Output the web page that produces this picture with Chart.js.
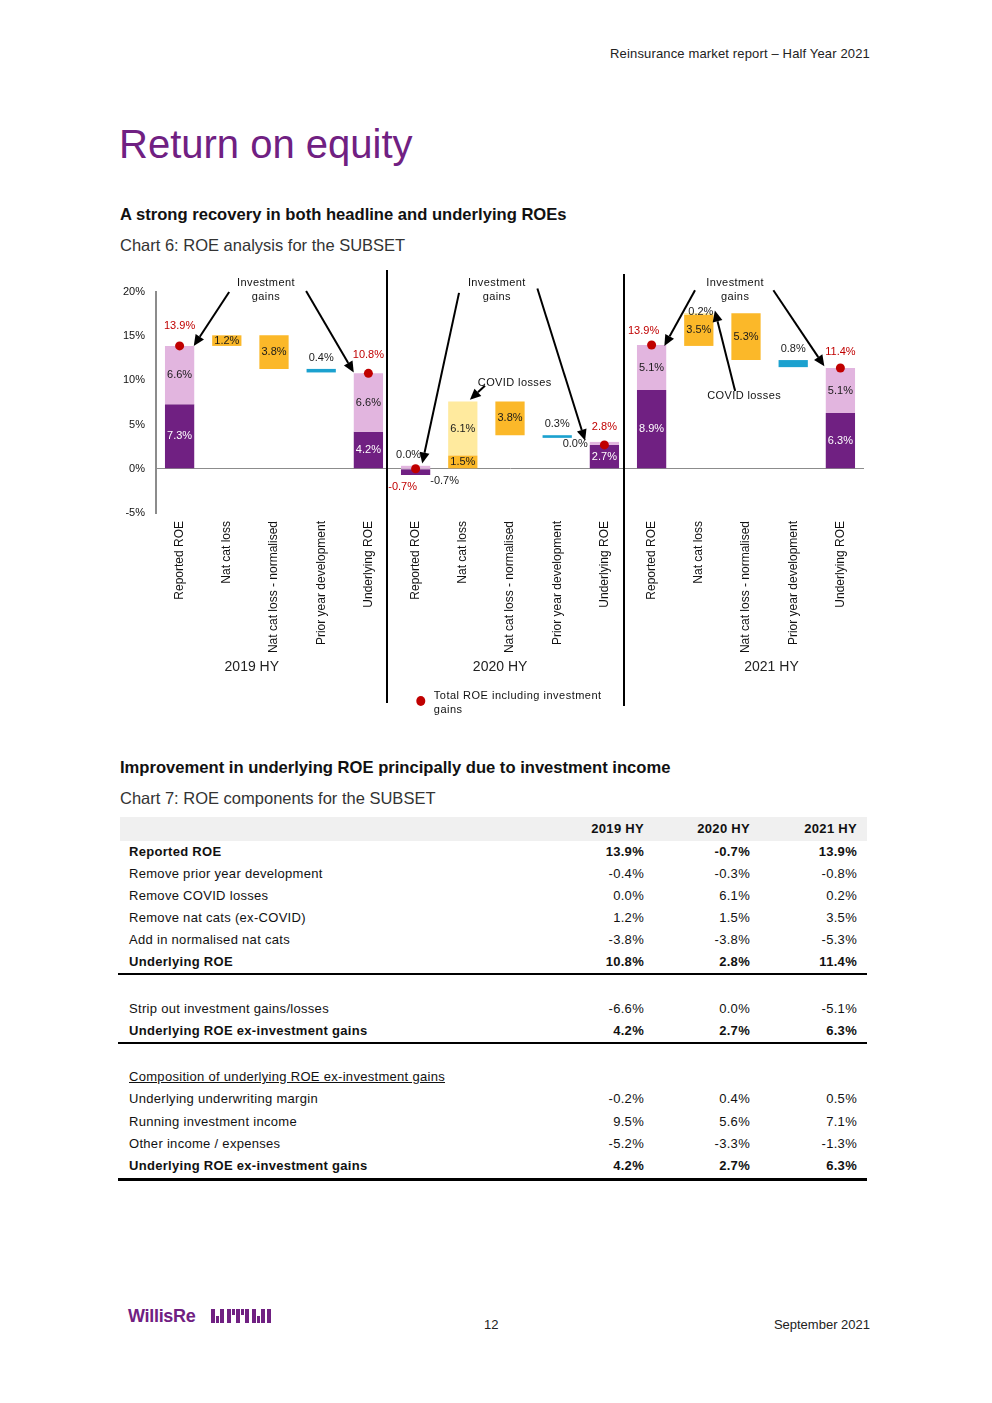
<!DOCTYPE html>
<html>
<head>
<meta charset="utf-8">
<script src="https://cdn.jsdelivr.net/npm/chart.js@4.4.1/dist/chart.umd.min.js"></script>
<style>
  html, body { margin: 0; padding: 0; background: #fff; }
  body { width: 992px; height: 1403px; position: relative; overflow: hidden;
         font-family: "Liberation Sans", Arial, sans-serif; color: #1a1a1a; }
  .abs { position: absolute; white-space: nowrap; }
  #header { right: 122px; top: 46px; font-size: 13px; line-height: 16px; color: #222; letter-spacing: 0.15px; }
  #title { left: 119px; top: 120px; font-size: 40px; line-height: 48px; color: #702082; }
  .sub { left: 120px; font-size: 16.6px; line-height: 18px; font-weight: bold; color: #111; }
  .cap { left: 120px; font-size: 16.5px; line-height: 18px; color: #333; }
  #chartWrap { position: absolute; left: 115px; top: 265px; width: 760px; height: 460px; }
  #tbl { position: absolute; left: 120px; top: 817px; width: 747px;
         font-family: "Liberation Sans", Arial, sans-serif;
         font-size: 13px; letter-spacing: 0.3px; color: #111; }
  .row { position: relative; height: 22px; line-height: 22px; }
  .row .lab { position: absolute; left: 9px; }
  .row .v { position: absolute; text-align: right; width: 80px; }
  .row.head { background: #f0f0f0; height: 24px; line-height: 24px; font-weight: bold; }
  .row.bold { font-weight: bold; }
  .u { text-decoration: underline; }
  .footer { font-size: 13px; line-height: 16px; color: #222; }
  #logo { left: 128px; top: 1305px; font-size: 18px; line-height: 22px; font-weight: bold; color: #702082; letter-spacing: -0.3px; }
  #mark { left: 211px; top: 1309px; height: 14px; width: 66px; }
  #mark span { position: absolute; background: #702082; }
</style>
</head>
<body>
<div id="header" class="abs">Reinsurance market report – Half Year 2021</div>
<div id="title" class="abs">Return on equity</div>
<div class="abs sub" style="top:206px">A strong recovery in both headline and underlying ROEs</div>
<div class="abs cap" style="top:236px">Chart 6: ROE analysis for the SUBSET</div>

<div id="chartWrap"><canvas id="roeChart" width="760" height="460"></canvas></div>

<div class="abs sub" style="top:759px">Improvement in underlying ROE principally due to investment income</div>
<div class="abs cap" style="top:789px">Chart 7: ROE components for the SUBSET</div>

<div id="tbl"></div>

<div id="logo" class="abs">WillisRe</div>
<div id="mark" class="abs"></div>
<div class="abs footer" style="left:484px; top:1317px">12</div>
<div class="abs footer" style="right:122px; top:1317px">September 2021</div>

<script>
// Chart 6 data (per half year)
const periods = ["2019 HY", "2020 HY", "2021 HY"];
const steps = ["Reported ROE", "Nat cat loss", "Nat cat loss - normalised", "Prior year development", "Underlying ROE"];
const reportedExInv = [7.3, -0.7, 8.9];
const reportedInvGains = [6.6, 0.0, 5.1];
const natCatLoss = [1.2, 1.5, 3.5];
const covidLoss = [null, 6.1, 0.2];
const natCatNormalised = [3.8, 3.8, 5.3];
const priorYearRelease = [0.4, 0.3, 0.8];
const underlyingExInv = [4.2, 2.7, 6.3];
const underlyingInvGains = [6.6, 0.0, 5.1];
const totalReported = [13.9, -0.7, 13.9];
const totalUnderlying = [10.8, 2.8, 11.4];
const waterfallStart = [13.9, 0.0, 13.9];
const yTicks = [-5, 0, 5, 10, 15, 20];

// Chart 7 table
const tblYears = ["2019 HY", "2020 HY", "2021 HY"];
const tblReported = [13.9, -0.7, 13.9];
const tblPriorYear = [-0.4, -0.3, -0.8];
const tblCovid = [0.0, 6.1, 0.2];
const tblNatCats = [1.2, 1.5, 3.5];
const tblNormalised = [-3.8, -3.8, -5.3];
const tblUnderlying = [10.8, 2.8, 11.4];
const tblStripInv = [-6.6, 0.0, -5.1];
const tblUnderlyingExInv = [4.2, 2.7, 6.3];
const tblUwMargin = [-0.2, 0.4, 0.5];
const tblRunningInv = [9.5, 5.6, 7.1];
const tblOther = [-5.2, -3.3, -1.3];

const FONT = '"Liberation Sans", Arial, sans-serif';
const PURPLE = "#702082", PINK = "#E2B5DF", ORANGE = "#FBB829", YELLOW = "#FFEA9E", BLUE = "#1BA1CF", RED = "#C00000";

// build the 15-slot series from the period arrays
const labels = periods.flatMap(() => steps);
const blank = () => new Array(labels.length).fill(null);
const dark = blank(), darkV = blank(), pink = blank(), pinkV = blank();
const cat = blank(), catV = blank(), covid = blank(), covidV = blank();
const norm = blank(), normV = blank(), pyd = blank(), pydV = blank();
const dots = blank(), dotsV = blank();

periods.forEach((p, k) => {
  const o = k * steps.length;
  // reported and underlying stacks
  [[o, reportedExInv[k], reportedInvGains[k], totalReported[k]],
   [o + 4, underlyingExInv[k], underlyingInvGains[k], totalUnderlying[k]]].forEach(([i, ex, inv, tot]) => {
    dark[i] = [0, ex]; darkV[i] = ex;
    const b = Math.max(ex, 0);
    pink[i] = [b, b + inv]; pinkV[i] = inv;
    dots[i] = b + inv; dotsV[i] = tot;
  });
  // waterfall steps
  let level = waterfallStart[k];
  cat[o + 1] = [level, level + natCatLoss[k]]; catV[o + 1] = natCatLoss[k];
  level += natCatLoss[k];
  if (covidLoss[k] !== null) {
    covid[o + 1] = [level, level + covidLoss[k]]; covidV[o + 1] = covidLoss[k];
    level += covidLoss[k];
  }
  norm[o + 2] = [level, level - natCatNormalised[k]]; normV[o + 2] = natCatNormalised[k];
  level -= natCatNormalised[k];
  pyd[o + 3] = [level, level - priorYearRelease[k]]; pydV[o + 3] = priorYearRelease[k];
});

const datasets = [
  { type: "line", data: dots, showLine: false, pointRadius: 4.5, pointHoverRadius: 4.5,
    pointBackgroundColor: RED, pointBorderWidth: 0,
    labelValues: dotsV, labelColor: RED, labelMode: "above",
    labelSpecial: { 0: { dy: -2 }, 5: { mode: "below", dx: -13 }, 10: { dx: -8, dy: 4 }, 14: { dy: 2 } } },
  { data: pink, backgroundColor: PINK, minBarLength: 3, base: -10,
    labelValues: pinkV, labelColor: "#1a1a1a", labelMode: "center",
    labelSpecial: { 5: { mode: "above", dx: -7 }, 9: { mode: "left" } } },
  { data: dark, backgroundColor: PURPLE,
    labelValues: darkV, labelColor: "#fff", labelMode: "center",
    labelSpecial: { 5: { mode: "below", dx: 29, color: "#1a1a1a" } } },
  { data: cat, backgroundColor: ORANGE, labelValues: catV, labelColor: "#1a1a1a", labelMode: "center" },
  { data: covid, backgroundColor: YELLOW, labelValues: covidV, labelColor: "#1a1a1a", labelMode: "center",
    labelSpecial: { 11: { mode: "above", dx: 2, dy: 10 } } },
  { data: norm, backgroundColor: ORANGE, labelValues: normV, labelColor: "#1a1a1a", labelMode: "center" },
  { data: pyd, backgroundColor: BLUE, labelValues: pydV, labelColor: "#1a1a1a", labelMode: "above" }
];

const barLabels = {
  id: "barLabels",
  afterDatasetsDraw(chart) {
    const ctx = chart.ctx;
    ctx.save();
    ctx.font = "11px " + FONT;
    ctx.textBaseline = "middle";
    chart.data.datasets.forEach((ds, di) => {
      if (!ds.labelValues) return;
      chart.getDatasetMeta(di).data.forEach((el, i) => {
        const v = ds.labelValues[i];
        if (v === null || v === undefined) return;
        const p = Object.assign({ mode: ds.labelMode, color: ds.labelColor, dx: 0, dy: 0 }, (ds.labelSpecial || {})[i]);
        let x = el.x, y, align = "center";
        if (ds.type === "line") {
          y = p.mode === "below" ? el.y + 18 : el.y - 18;
        } else {
          const top = Math.min(el.y, el.base), bot = Math.max(el.y, el.base);
          if (p.mode === "center") y = (top + bot) / 2;
          else if (p.mode === "above") y = top - 11;
          else if (p.mode === "below") y = bot + 6;
          else if (p.mode === "left") { x = el.x - el.width / 2 - 2; y = top + 2; align = "right"; }
        }
        ctx.fillStyle = p.color;
        ctx.textAlign = align;
        ctx.fillText(v.toFixed(1) + "%", x + p.dx, y + p.dy);
      });
    });
    ctx.restore();
  }
};

// annotation texts and arrows, in (category index, value) coordinates
const noteTexts = [
  { x: 1.83, y: 21.0, text: "Investment" }, { x: 1.83, y: 19.4, text: "gains" },
  { x: 6.72, y: 21.0, text: "Investment" }, { x: 6.72, y: 19.4, text: "gains" },
  { x: 11.77, y: 21.0, text: "Investment" }, { x: 11.77, y: 19.4, text: "gains" },
  { x: 7.1, y: 9.7, text: "COVID losses" }, { x: 11.96, y: 8.2, text: "COVID losses" }
];
const noteArrows = [
  [1.05, 20.0, 0.30, 13.9], [2.68, 20.1, 3.69, 10.9],
  [5.92, 19.9, 5.14, 0.6], [7.58, 20.4, 8.59, 3.2], [6.47, 9.4, 6.15, 7.8],
  [10.92, 20.2, 10.27, 13.9], [12.58, 20.2, 13.66, 11.6], [11.77, 8.8, 11.34, 17.9]
];
const separators = [4.39, 9.42];
const groupLabelPos = [1.53, 6.79, 12.54];

function arrow(ctx, x1, y1, x2, y2) {
  const a = Math.atan2(y2 - y1, x2 - x1), L = 11, W = 5;
  const bx = x2 - L * Math.cos(a), by = y2 - L * Math.sin(a);
  ctx.beginPath(); ctx.moveTo(x1, y1); ctx.lineTo(bx, by); ctx.stroke();
  ctx.beginPath(); ctx.moveTo(x2, y2);
  ctx.lineTo(bx + W * Math.sin(a), by - W * Math.cos(a));
  ctx.lineTo(bx - W * Math.sin(a), by + W * Math.cos(a));
  ctx.closePath(); ctx.fill();
}

const annotations = {
  id: "annotations",
  afterDraw(chart) {
    const { ctx, chartArea: ca, scales: { x, y } } = chart;
    ctx.save();
    // separators between half years
    ctx.strokeStyle = "#000"; ctx.lineWidth = 2;
    separators.forEach((s, i) => {
      const px = Math.round(x.getPixelForValue(s));
      ctx.beginPath(); ctx.moveTo(px, ca.top - 22 + i * 4); ctx.lineTo(px, ca.bottom + 190 + i * 3); ctx.stroke();
    });
    // arrows
    ctx.fillStyle = "#000"; ctx.lineWidth = 2;
    noteArrows.forEach(([a, b, c, d]) => arrow(ctx, x.getPixelForValue(a), y.getPixelForValue(b), x.getPixelForValue(c), y.getPixelForValue(d)));
    // note texts
    ctx.font = "11px " + FONT;
    ctx.letterSpacing = "0.4px";
    ctx.textAlign = "center"; ctx.textBaseline = "middle"; ctx.fillStyle = "#111";
    noteTexts.forEach(t => ctx.fillText(t.text, x.getPixelForValue(t.x), y.getPixelForValue(t.y)));
    // half-year group labels
    ctx.letterSpacing = "0px";
    ctx.font = "14px " + FONT;
    ctx.fillStyle = "#222";
    periods.forEach((p, i) => ctx.fillText(p, x.getPixelForValue(groupLabelPos[i]), ca.bottom + 154));
    // legend
    const lx = x.getPixelForValue(5.11), ly = ca.bottom + 188;
    ctx.fillStyle = RED;
    ctx.beginPath(); ctx.ellipse(lx, ly, 4.5, 5, 0, 0, Math.PI * 2); ctx.fill();
    ctx.fillStyle = "#111"; ctx.textAlign = "left";
    ctx.font = "11px " + FONT; ctx.letterSpacing = "0.5px";
    ctx.fillText("Total ROE including investment", lx + 13, ly - 5);
    ctx.fillText("gains", lx + 13, ly + 9);
    ctx.restore();
  }
};

new Chart(document.getElementById("roeChart"), {
  type: "bar",
  data: { labels, datasets },
  options: {
    responsive: false,
    animation: false,
    layout: { padding: { top: 27, right: 11, left: 0, bottom: 0 } },
    datasets: { bar: { grouped: false, barPercentage: 0.62, categoryPercentage: 1, borderWidth: 0 } },
    plugins: { legend: { display: false }, tooltip: { enabled: false } },
    scales: {
      x: {
        offset: true,
        grid: { display: false }, border: { display: false },
        ticks: { autoSkip: false, maxRotation: 90, minRotation: 90, padding: 0, color: "#111", font: { size: 12, family: FONT } },
        afterFit: s => { s.height = 212; }
      },
      y: {
        min: yTicks[0], max: yTicks[yTicks.length - 1],
        afterBuildTicks: s => { s.ticks = yTicks.map(v => ({ value: v })); },
        ticks: { callback: v => v + "%", padding: 11, color: "#111", font: { size: 11, family: FONT } },
        grid: { drawTicks: false, color: c => (c.tick && c.tick.value === 0 ? "#8c8c8c" : "rgba(0,0,0,0)"), lineWidth: 1 },
        border: { color: "#8c8c8c", width: 2 },
        afterFit: s => { s.width = 41; }
      }
    }
  },
  plugins: [barLabels, annotations]
});

// table for chart 7
const pct = v => v.toFixed(1) + "%";
const tblRows = [
  { cls: "head", label: "", vals: tblYears },
  { cls: "bold", label: "Reported ROE", vals: tblReported.map(pct) },
  { label: "Remove prior year development", vals: tblPriorYear.map(pct) },
  { label: "Remove COVID losses", vals: tblCovid.map(pct) },
  { label: "Remove nat cats (ex-COVID)", vals: tblNatCats.map(pct) },
  { label: "Add in normalised nat cats", vals: tblNormalised.map(pct) },
  { cls: "bold", label: "Underlying ROE", vals: tblUnderlying.map(pct), rule: 2 },
  { gap: 23 },
  { label: "Strip out investment gains/losses", vals: tblStripInv.map(pct) },
  { cls: "bold", label: "Underlying ROE ex-investment gains", vals: tblUnderlyingExInv.map(pct), rule: 1.5 },
  { gap: 22.5 },
  { label: '<span class="u">Composition of underlying ROE ex-investment gains</span>', vals: ["", "", ""] },
  { label: "Underlying underwriting margin", vals: tblUwMargin.map(pct), h: 23 },
  { label: "Running investment income", vals: tblRunningInv.map(pct) },
  { label: "Other income / expenses", vals: tblOther.map(pct) },
  { cls: "bold", label: "Underlying ROE ex-investment gains", vals: tblUnderlyingExInv.map(pct), rule: 3, h: 23 }
];
const valRight = [524, 630, 737];
const tbl = document.getElementById("tbl");
tblRows.forEach(r => {
  const d = document.createElement("div");
  if (r.gap) { d.style.height = r.gap + "px"; tbl.appendChild(d); return; }
  d.className = "row " + (r.cls || "");
  if (r.h) d.style.height = r.h + "px";
  let html = '<span class="lab">' + r.label + "</span>";
  r.vals.forEach((v, i) => {
    html += '<span class="v" style="left:' + (valRight[i] - 80) + 'px">' + v + "</span>";
  });
  d.innerHTML = html;
  tbl.appendChild(d);
  if (r.rule) {
    const line = document.createElement("div");
    line.style.cssText = "height:" + r.rule + "px;background:#000;margin-left:-2px;";
    tbl.appendChild(line);
  }
});

// simple WTW mark next to the logo text
const markBars = [[0, 4, 0, 14], [5, 3, 7, 7], [9, 4, 0, 14], [16, 4, 0, 14], [21, 3, 0, 6], [25, 4, 0, 14], [30, 3, 0, 6], [34, 4, 0, 14], [41, 4, 0, 14], [46, 3, 7, 7], [50, 4, 0, 14], [56, 4, 0, 14]];
const mark = document.getElementById("mark");
markBars.forEach(([l, w, t, h]) => {
  const s = document.createElement("span");
  s.style.cssText = "left:" + l + "px;width:" + w + "px;top:" + t + "px;height:" + h + "px;";
  mark.appendChild(s);
});
</script>
</body>
</html>
